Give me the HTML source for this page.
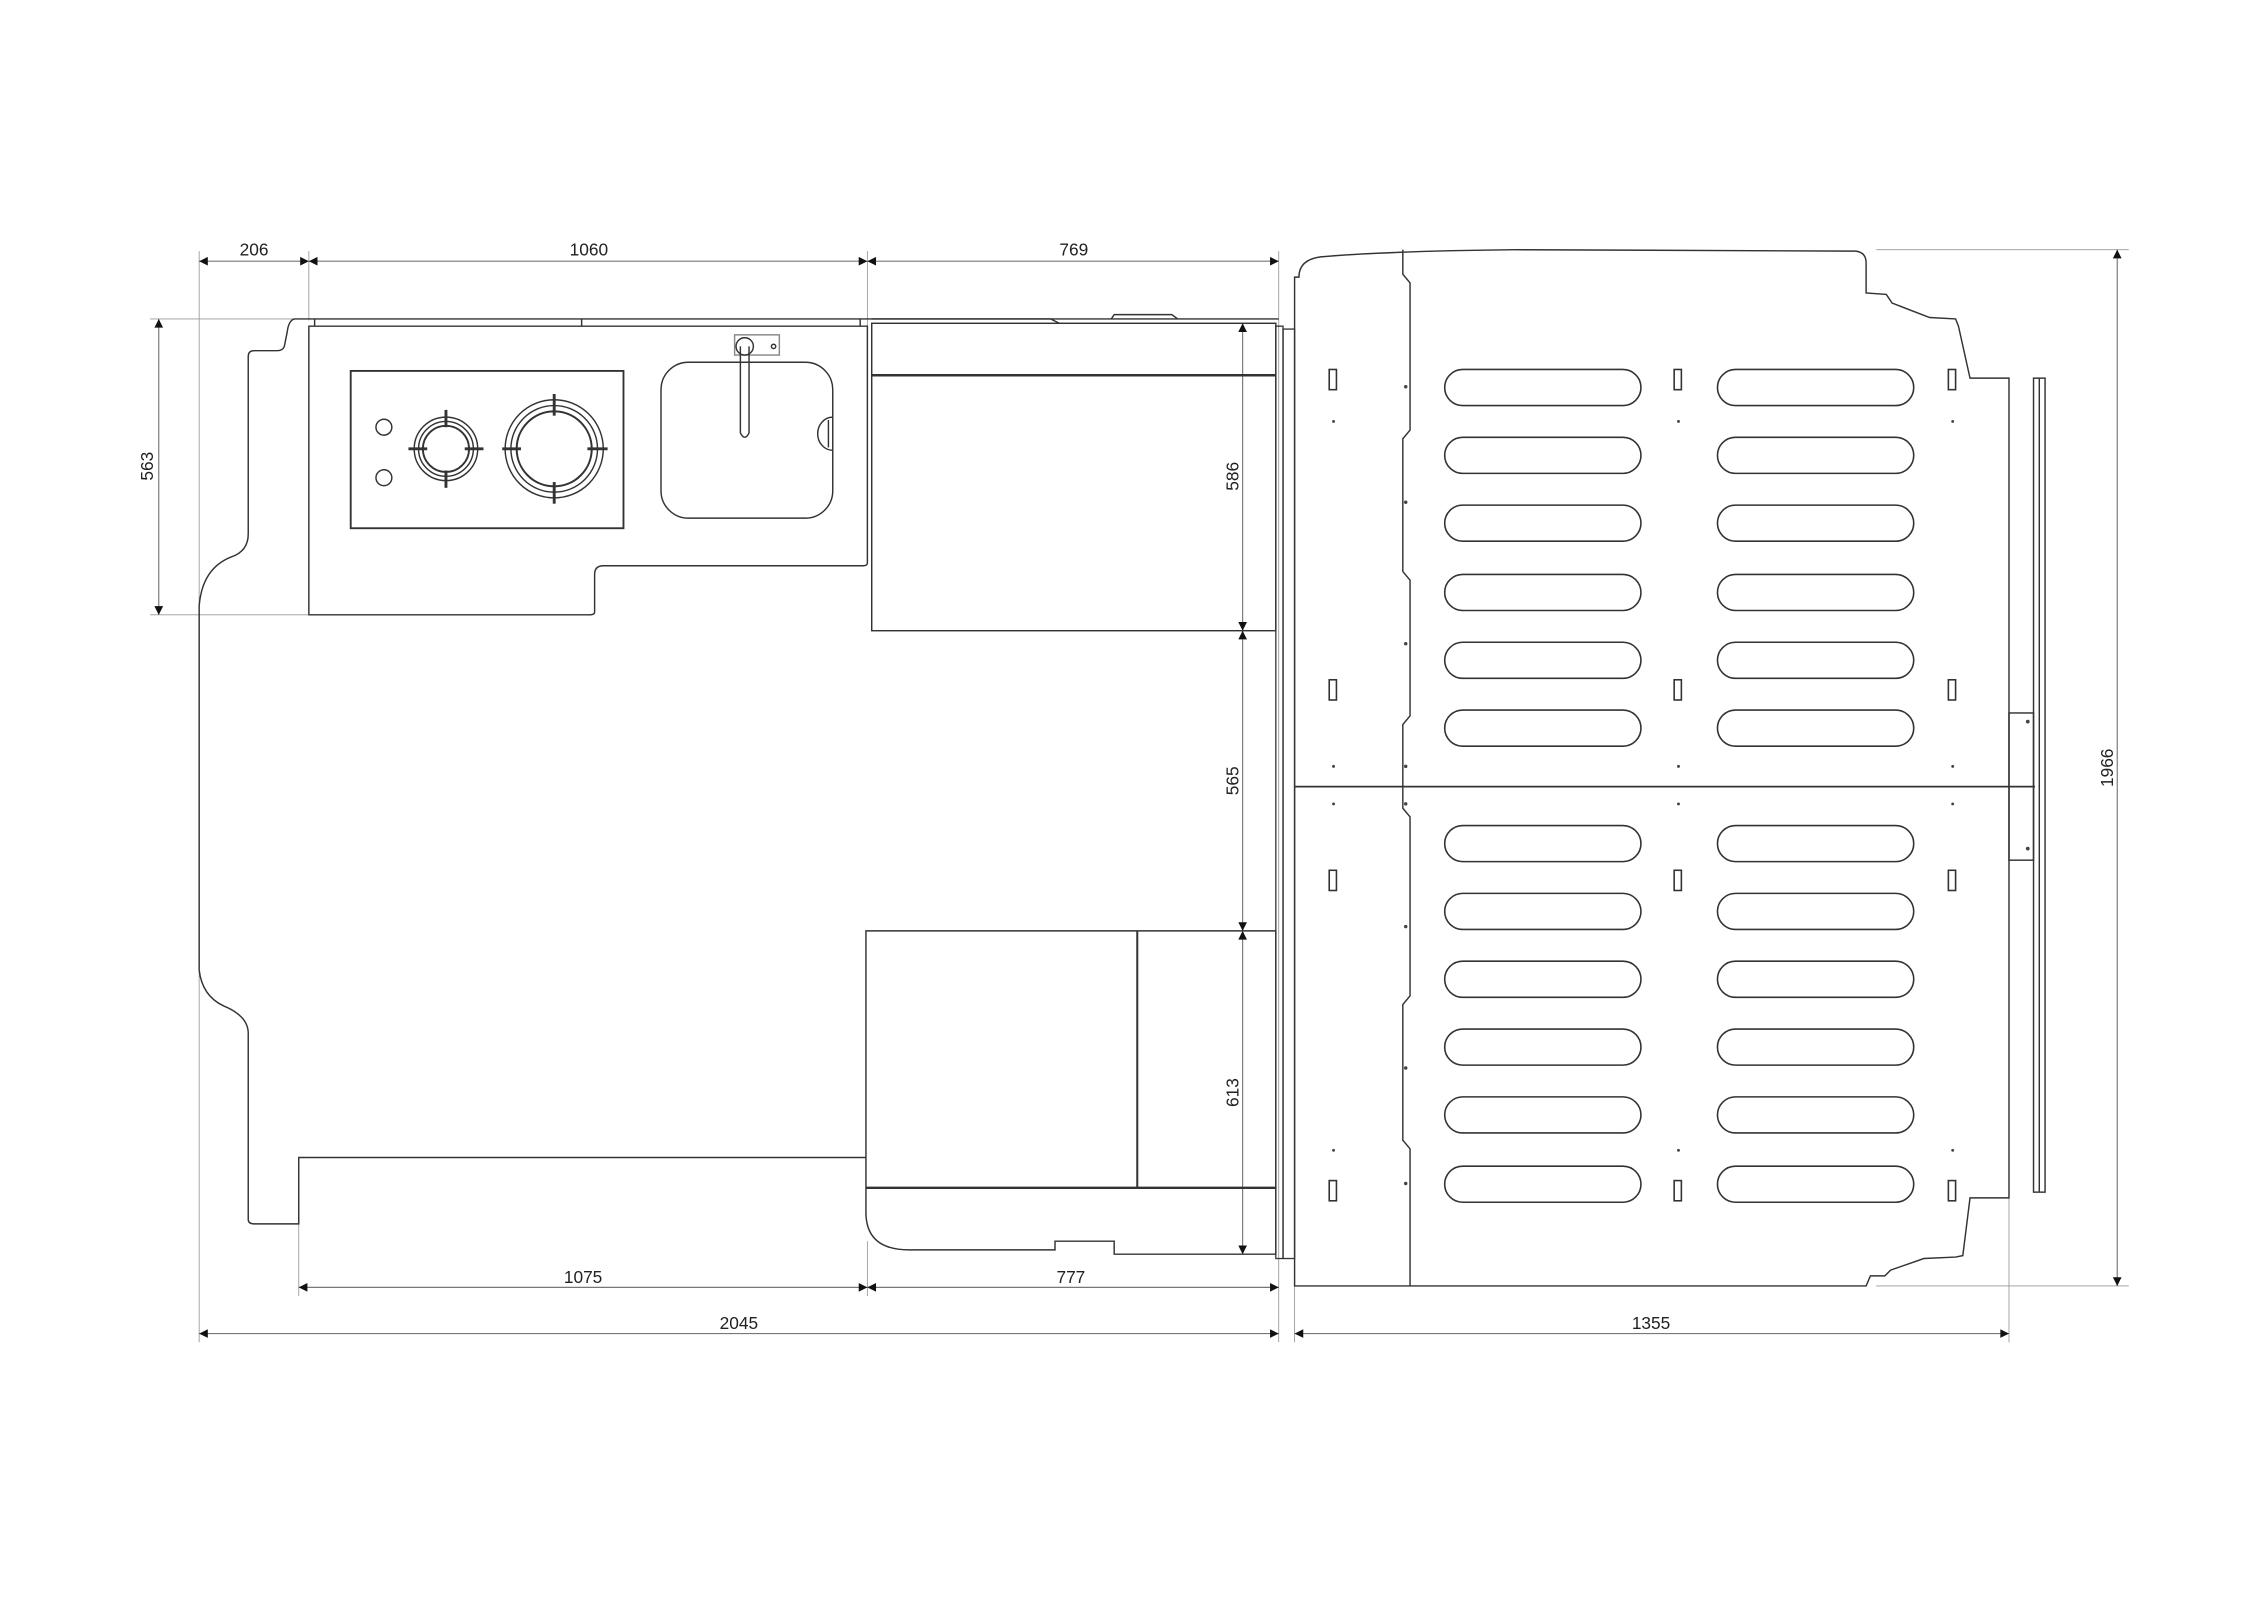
<!DOCTYPE html>
<html><head><meta charset="utf-8">
<style>
html,body{margin:0;padding:0;background:#fff;}
svg{display:block;}
text{font-family:"Liberation Sans",sans-serif;font-size:12px;fill:#222;}
</style></head>
<body>
<svg width="2263" height="1600" viewBox="0 0 1568 1108.6" preserveAspectRatio="none" xmlns="http://www.w3.org/2000/svg">
<defs>
<marker id="a" viewBox="0 0 10 10" refX="10" refY="5" markerWidth="11" markerHeight="6" orient="auto-start-reverse" markerUnits="userSpaceOnUse">
<path d="M0,0 L10,5 L0,10 z" fill="#111"/></marker>
</defs>
<rect width="1568" height="1109" fill="#fff"/>
<g stroke="#999" stroke-width="0.6" fill="none">
<line x1="138" y1="174" x2="138" y2="930"/>
<line x1="214" y1="174" x2="214" y2="222"/>
<line x1="601" y1="174" x2="601" y2="226"/>
<line x1="886" y1="174" x2="886" y2="930"/>
<line x1="897" y1="880" x2="897" y2="930"/>
<line x1="1392" y1="830" x2="1392" y2="930"/>
<line x1="104" y1="221" x2="214" y2="221"/>
<line x1="104" y1="426" x2="214" y2="426"/>
<line x1="207" y1="848" x2="207" y2="898"/>
<line x1="601" y1="860" x2="601" y2="898"/>
<line x1="1300" y1="173" x2="1475" y2="173"/>
<line x1="1300" y1="891" x2="1475" y2="891"/>
</g>
<g stroke="#777" stroke-width="0.8" fill="none" marker-start="url(#a)" marker-end="url(#a)">
<line x1="138" y1="181" x2="214" y2="181"/>
<line x1="214" y1="181" x2="601" y2="181"/>
<line x1="601" y1="181" x2="886" y2="181"/>
<line x1="110" y1="221" x2="110" y2="426"/>
<line x1="861" y1="224" x2="861" y2="437"/>
<line x1="861" y1="437" x2="861" y2="645"/>
<line x1="861" y1="645" x2="861" y2="869"/>
<line x1="207" y1="892" x2="601" y2="892"/>
<line x1="601" y1="892" x2="886" y2="892"/>
<line x1="138" y1="924" x2="886" y2="924"/>
<line x1="897" y1="924" x2="1392" y2="924"/>
<line x1="1467" y1="173" x2="1467" y2="891"/>
</g>
<g text-anchor="middle">
<text x="176" y="177">206</text>
<text x="408" y="177">1060</text>
<text x="744" y="177">769</text>
<text x="404" y="889">1075</text>
<text x="742" y="889">777</text>
<text x="512" y="921">2045</text>
<text x="1144" y="921">1355</text>
<text transform="translate(106,323) rotate(-90)">563</text>
<text transform="translate(858,330) rotate(-90)">586</text>
<text transform="translate(858,541) rotate(-90)">565</text>
<text transform="translate(858,757) rotate(-90)">613</text>
<text transform="translate(1464,532) rotate(-90)">1966</text>
</g>
<g stroke="#333" stroke-width="1" fill="none">
<path d="M214,221 L204,221 Q200,222 199,230 L197,240 Q196,243 192,243 L176,243 Q172,243 172,247 L172,370 Q172,382 160,386 Q140,394 138,420 L138,672 Q140,690 155,697 Q172,704 172,716 L172,845 Q172,848 176,848 L207,848 L207,802 L600,802"/>
<line x1="214" y1="221" x2="886" y2="221"/>
<line x1="218" y1="221" x2="218" y2="226"/>
<line x1="403" y1="221" x2="403" y2="226"/>
<line x1="596" y1="221" x2="596" y2="226"/>
<path d="M214,226 L601,226 L601,390 Q601,392 598,392 L418,392 Q412,392 412,398 L412,424 Q412,426 408,426 L214,426 Z"/>
<rect x="243" y="257" width="189" height="109" stroke-width="1.3"/>
<circle cx="266" cy="296" r="5.5"/>
<circle cx="266" cy="331" r="5.5"/>
<circle cx="309" cy="311" r="22"/>
<circle cx="309" cy="311" r="19"/>
<circle cx="309" cy="311" r="16" stroke-width="1.3"/>
<g stroke-width="2"><line x1="309" y1="284" x2="309" y2="296"/><line x1="309" y1="326" x2="309" y2="338"/><line x1="283" y1="311" x2="296" y2="311"/><line x1="322" y1="311" x2="335" y2="311"/></g>
<circle cx="384" cy="311" r="34"/>
<circle cx="384" cy="311" r="30"/>
<circle cx="384" cy="311" r="26" stroke-width="1.4"/>
<g stroke-width="2"><line x1="384" y1="273" x2="384" y2="288"/><line x1="384" y1="334" x2="384" y2="349"/><line x1="348" y1="311" x2="361" y2="311"/><line x1="407" y1="311" x2="421" y2="311"/></g>
<rect x="458" y="251" width="119" height="108" rx="19"/>
<path d="M577,289 A10,11 0 0 0 577,312" />
<line x1="574" y1="291" x2="574" y2="310"/>
<rect x="509" y="232" width="31" height="14" stroke="#888"/>
<circle cx="536" cy="240" r="1.5"/>
<circle cx="516" cy="240" r="6"/>
<path d="M513,240 L513,300 Q516,306 519,300 L519,240"/>
<path d="M604,221 L728,221 L734,224 M770,221 L772,218 L812,218 L816,221"/>
<rect x="604" y="224" width="280" height="213"/>
<line x1="604" y1="260" x2="884" y2="260" stroke-width="1.7"/>
<rect x="884" y="226" width="5" height="646" stroke-width="0.9"/>
<rect x="889" y="228" width="8" height="644" stroke-width="0.9"/>
<path d="M600,645 L884,645 L884,869 L772,869 L772,860 L731,860 L731,866 L630,866 Q600,866 600,840 Z"/>
<line x1="788" y1="645" x2="788" y2="823" stroke-width="1.4"/>
<line x1="600" y1="823" x2="884" y2="823" stroke-width="1.6"/>
<path d="M900,192 Q900,180 915,178 Q960,174 1050,173 L1286,174 Q1293,175 1293,182 L1293,203 L1307,204 L1311,210 L1337,220 L1355,221 L1357,226 L1365,262 L1392,262 L1392,830 L1365,830 L1360,870 L1355,871 L1333,872 L1310,880 L1306,884 L1296,884 L1293,891 L897,891 L897,192 Z"/>
<path d="M972,173 L972,190 L977,196 L977,298 L972,304 L972,396 L977,402 L977,496 L972,502 L972,560 L977,566 L977,690 L972,696 L972,790 L977,796 L977,891"/>
<line x1="897" y1="545" x2="1410" y2="545" stroke-width="1.2"/>
<rect x="1409" y="262" width="8" height="564"/>
<line x1="1413" y1="262" x2="1413" y2="826"/>
<rect x="1392" y="494" width="17" height="102"/>
</g>
<g stroke="#333" stroke-width="1.1" fill="none">
<g id="col">
<rect x="1001" y="256" width="136" height="25" rx="12.5"/>
<rect x="1001" y="303" width="136" height="25" rx="12.5"/>
<rect x="1001" y="350" width="136" height="25" rx="12.5"/>
<rect x="1001" y="398" width="136" height="25" rx="12.5"/>
<rect x="1001" y="445" width="136" height="25" rx="12.5"/>
<rect x="1001" y="492" width="136" height="25" rx="12.5"/>
<rect x="1001" y="572" width="136" height="25" rx="12.5"/>
<rect x="1001" y="619" width="136" height="25" rx="12.5"/>
<rect x="1001" y="666" width="136" height="25" rx="12.5"/>
<rect x="1001" y="713" width="136" height="25" rx="12.5"/>
<rect x="1001" y="760" width="136" height="25" rx="12.5"/>
<rect x="1001" y="808" width="136" height="25" rx="12.5"/>
</g>
<use href="#col" x="189"/>
<g id="tabs">
<rect x="921" y="256" width="5" height="14"/>
<rect x="921" y="471" width="5" height="14"/>
<rect x="921" y="603" width="5" height="14"/>
<rect x="921" y="818" width="5" height="14"/>
</g>
<use href="#tabs" x="239"/>
<use href="#tabs" x="429"/>
</g>
<g fill="#444">
<circle cx="924" cy="292" r="1"/><circle cx="1163" cy="292" r="1"/><circle cx="1353" cy="292" r="1"/>
<circle cx="924" cy="531" r="1"/><circle cx="1163" cy="531" r="1"/><circle cx="1353" cy="531" r="1"/>
<circle cx="924" cy="557" r="1"/><circle cx="1163" cy="557" r="1"/><circle cx="1353" cy="557" r="1"/>
<circle cx="924" cy="797" r="1"/><circle cx="1163" cy="797" r="1"/><circle cx="1353" cy="797" r="1"/>
<circle cx="974" cy="268" r="1.2"/><circle cx="974" cy="348" r="1.2"/><circle cx="974" cy="446" r="1.2"/><circle cx="974" cy="531" r="1.2"/>
<circle cx="974" cy="557" r="1.2"/><circle cx="974" cy="642" r="1.2"/><circle cx="974" cy="740" r="1.2"/><circle cx="974" cy="820" r="1.2"/>
<circle cx="1405" cy="500" r="1.3"/><circle cx="1405" cy="588" r="1.3"/>
</g>
</svg>
</body></html>
